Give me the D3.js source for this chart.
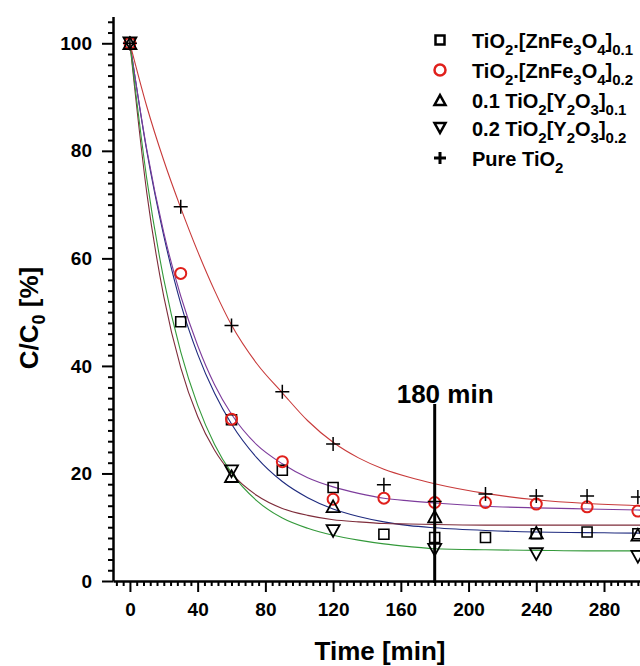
<!DOCTYPE html>
<html>
<head>
<meta charset="utf-8">
<script src="https://cdn.jsdelivr.net/npm/d3@7"></script>
<style>
  html, body { margin: 0; padding: 0; background: #fff; }
  svg text { font-family: Arial, "Liberation Sans", sans-serif; font-weight: bold; fill: #000; }
</style>
</head>
<body>
<div id="chart"></div>
<script>
// measured times [min]
const timesAll = [0, 30, 60, 90, 120, 150, 180, 210, 240, 270, 300];
const timesY = [0, 60, 120, 180, 240, 300];

// C/C0 [%]
const znfe01 = [100, 48.2, 30.0, 20.6, 17.4, 8.7, 8.1, 8.1, 8.8, 9.1, 8.8];
const znfe02 = [100, 57.2, 30.1, 22.2, 15.2, 15.4, 14.6, 14.6, 14.3, 13.8, 13.0];
const y2o301 = [100, 19.5, 13.9, 12.0, 9.0, 8.6];
const y2o302 = [100, 20.4, 9.3, 5.8, 5.0, 4.5];
const pureTiO2 = [100, 69.6, 47.5, 35.2, 25.5, 17.9, 14.8, 16.2, 15.8, 15.8, 15.6];

// fitted curves, values
const fitTimes = [0, 10, 20, 30, 40, 50, 60, 75, 90, 105, 120, 135, 150, 165, 180, 210, 240, 270, 300, 310];
const fitPure = [100, 88.2, 78.2, 69.4, 61.3, 54.0, 47.6, 40.4, 35.0, 29.8, 25.8, 22.9, 20.8, 19.3, 18.1, 16.3, 15.1, 14.4, 14.0, 13.9];
const fitZnfe02 = [100, 80.2, 64.8, 53.0, 43.8, 36.5, 31.0, 25.3, 21.8, 19.2, 17.5, 16.3, 15.4, 14.9, 14.5, 13.9, 13.6, 13.4, 13.2, 13.1];
const fitZnfe01 = [100, 79.9, 64.2, 51.6, 42.2, 34.9, 29.2, 22.9, 18.5, 15.5, 13.4, 12.0, 11.0, 10.3, 9.9, 9.4, 9.1, 9.0, 8.9, 8.9];
const fitY01 = [100, 72.1, 52.9, 39.7, 30.6, 24.3, 20.0, 15.9, 13.5, 12.2, 11.4, 11.0, 10.7, 10.6, 10.5, 10.4, 10.4, 10.4, 10.4, 10.4];
const fitY02 = [100, 74.7, 56.1, 42.6, 32.7, 25.4, 20.1, 14.9, 11.7, 9.8, 8.5, 7.6, 6.9, 6.4, 6.0, 5.8, 5.7, 5.6, 5.6, 5.6];

// axis ticks
const xMajor = [0, 40, 80, 120, 160, 200, 240, 280];
const yMajor = [0, 20, 40, 60, 80, 100];

// legend labels: [text, isSubscript]
const legendLabels = [
    [['TiO', 0], ['2', 1], ['.[ZnFe', 0], ['3', 1], ['O', 0], ['4', 1], [']', 0], ['0.1', 1]],
    [['TiO', 0], ['2', 1], ['.[ZnFe', 0], ['3', 1], ['O', 0], ['4', 1], [']', 0], ['0.2', 1]],
    [['0.1 TiO', 0], ['2', 1], ['[Y', 0], ['2', 1], ['O', 0], ['3', 1], [']', 0], ['0.1', 1]],
    [['0.2 TiO', 0], ['2', 1], ['[Y', 0], ['2', 1], ['O', 0], ['3', 1], [']', 0], ['0.2', 1]],
    [['Pure TiO', 0], ['2', 1]]
];
const yTitle = [['C/C', 0], ['0', 1], [' [%]', 0]];
const markLabel = '180 min';
const markTime = 180;

const W = 640, H = 666;
const svg = d3.select('#chart').append('svg')
    .attr('width', W)
    .attr('height', H);

const x = d3.scaleLinear().domain([-10, 310]).range([113, 654.8]);
const y = d3.scaleLinear().domain([0, 105]).range([581, 16.4]);

// marker shapes
function markerPath(shape, s) {
    const p = d3.path();
    if (shape === 'square') {
        p.rect(-s / 2, -s / 2, s, s);
    } else if (shape === 'circle') {
        p.arc(0, 0, s / 2, 0, 2 * Math.PI);
        p.closePath();
    } else if (shape === 'up') {
        const h = s * 0.9;
        p.moveTo(0, -h / 2); p.lineTo(s / 2, h / 2); p.lineTo(-s / 2, h / 2); p.closePath();
    } else if (shape === 'down') {
        const h = s * 0.9;
        p.moveTo(0, h / 2); p.lineTo(s / 2, -h / 2); p.lineTo(-s / 2, -h / 2); p.closePath();
    } else if (shape === 'plus') {
        p.moveTo(-s / 2, 0); p.lineTo(s / 2, 0);
        p.moveTo(0, -s / 2); p.lineTo(0, s / 2);
    }
    return p.toString();
}

const series = [
    { times: timesAll, values: znfe01, shape: 'square', color: '#000', size: 10, sw: 1.6, fit: fitZnfe01, fitColor: '#1e2a7e' },
    { times: timesAll, values: znfe02, shape: 'circle', color: '#e0201c', size: 11, sw: 2, fit: fitZnfe02, fitColor: '#7d3c9c' },
    { times: timesY, values: y2o301, shape: 'up', color: '#000', size: 13, sw: 1.8, fit: fitY01, fitColor: '#7e2c3a' },
    { times: timesY, values: y2o302, shape: 'down', color: '#000', size: 13, sw: 1.8, fit: fitY02, fitColor: '#33993a' },
    { times: timesAll, values: pureTiO2, shape: 'plus', color: '#000', size: 14, sw: 1.5, fit: fitPure, fitColor: '#c83a3a' }
];

// clip for plot area
svg.append('clipPath').attr('id', 'plot-clip')
    .append('rect')
    .attr('x', x.range()[0]).attr('y', y.range()[1])
    .attr('width', x.range()[1] - x.range()[0])
    .attr('height', y.range()[0] - y.range()[1]);

const plot = svg.append('g').attr('clip-path', 'url(#plot-clip)');

// fitted curves
const line = d3.line()
    .x(d => x(d[0]))
    .y(d => y(d[1]))
    .curve(d3.curveMonotoneX);

series.forEach(s => {
    plot.append('path')
        .datum(fitTimes.map((t, i) => [t, s.fit[i]]))
        .attr('d', line)
        .attr('fill', 'none')
        .attr('stroke', s.fitColor)
        .attr('stroke-width', 1.1);
});

// markers
series.forEach(s => {
    plot.selectAll(null)
        .data(s.times.map((t, i) => [t, s.values[i]]))
        .enter()
        .append('path')
        .attr('transform', d => `translate(${x(d[0])},${y(d[1])})`)
        .attr('d', markerPath(s.shape, s.size))
        .attr('fill', 'none')
        .attr('stroke', s.color)
        .attr('stroke-width', s.sw);
});

// 180 min marker line
svg.append('line')
    .attr('x1', x(markTime)).attr('x2', x(markTime))
    .attr('y1', 404).attr('y2', y(0) + 2)
    .attr('stroke', '#000')
    .attr('stroke-width', 3);

svg.append('text')
    .attr('x', x(markTime) - 38)
    .attr('y', 403)
    .style('font-size', '26px')
    .text(markLabel);

// axes
function styleAxis(g) {
    g.select('.domain').attr('stroke', '#000').attr('stroke-width', 2.5);
    g.selectAll('.tick line').attr('stroke', '#000').attr('stroke-width', 2);
    g.selectAll('.tick text')
        .style('font-size', '19px')
        .style('font-family', 'Arial, "Liberation Sans", sans-serif')
        .style('font-weight', 'bold')
        .attr('fill', '#000');
}

const xMinor = d3.range(-8, 310, 4).filter(v => v % 40 !== 0);
const yMinor = d3.range(2, 105, 2).filter(v => v % 20 !== 0);

svg.append('g')
    .attr('transform', `translate(0,${y(0)})`)
    .call(d3.axisBottom(x).tickValues(xMinor).tickSize(5).tickSizeOuter(0).tickFormat(''))
    .call(g => g.select('.domain').remove())
    .call(styleAxis);

svg.append('g')
    .attr('transform', `translate(0,${y(0)})`)
    .call(d3.axisBottom(x).tickValues(xMajor).tickSize(11).tickSizeOuter(0).tickPadding(11))
    .call(styleAxis);

svg.append('g')
    .attr('transform', `translate(${x(-10)},0)`)
    .call(d3.axisLeft(y).tickValues(yMinor).tickSize(5).tickSizeOuter(0).tickFormat(''))
    .call(g => g.select('.domain').remove())
    .call(styleAxis);

svg.append('g')
    .attr('transform', `translate(${x(-10)},0)`)
    .call(d3.axisLeft(y).tickValues(yMajor).tickSize(11).tickSizeOuter(0).tickPadding(10))
    .call(styleAxis);

// rich text with subscripts
function richText(sel, parts, size, subSize, subShift) {
    let shifted = false;
    parts.forEach(([txt, sub]) => {
        const t = sel.append('tspan').text(txt);
        if (sub) {
            t.style('font-size', subSize + 'px');
            if (!shifted) { t.attr('dy', subShift); shifted = true; }
        } else {
            t.style('font-size', size + 'px');
            if (shifted) { t.attr('dy', -subShift); shifted = false; }
        }
    });
}

// axis titles
svg.append('text')
    .attr('x', 380)
    .attr('y', 660)
    .attr('text-anchor', 'middle')
    .style('font-size', '26px')
    .text('Time [min]');

const yt = svg.append('text')
    .attr('transform', 'translate(38,318) rotate(-90)')
    .attr('text-anchor', 'middle')
    .style('font-size', '26px');
richText(yt, yTitle, 26, 18, 7);

// legend
const legend = svg.append('g').attr('transform', 'translate(440,0)');
const legendRowY = [40, 70, 100, 128, 158];

series.forEach((s, i) => {
    const row = legend.append('g').attr('transform', `translate(0,${legendRowY[i]})`);
    row.append('path')
        .attr('d', markerPath(s.shape, s.shape === 'plus' ? 12 : (s.shape === 'square' ? 9 : 11)))
        .attr('fill', 'none')
        .attr('stroke', s.color)
        .attr('stroke-width', s.shape === 'plus' ? 3 : 2.5);
    const txt = row.append('text')
        .attr('x', 32)
        .attr('y', 8);
    richText(txt, legendLabels[i], 20, 15, 7);
});
</script>
</body>
</html>
